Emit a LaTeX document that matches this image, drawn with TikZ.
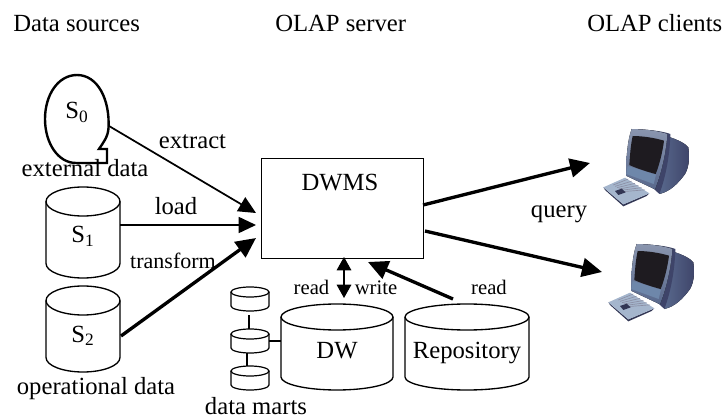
\documentclass[tikz,border=0pt]{standalone}
\usepackage{fontspec}
\setmainfont{Liberation Serif}
\usetikzlibrary{arrows.meta,calc}

\tikzset{
	txtbig/.style={inner sep=0pt,anchor=base,font=\fontsize{18.5}{20}\selectfont},
	txtsmall/.style={inner sep=0pt,anchor=base,font=\fontsize{15.5}{18}\selectfont},
	drumbox/.style={inner sep=0pt,outer sep=0pt,minimum width=#1},
	thin arrow/.style={-{Triangle[length=13pt,width=12pt]},line width=1.3pt},
	thick arrow/.style={-{Triangle[length=15pt,width=14pt]},line width=2.5pt},
}
\definecolor{pcback}{RGB}{62,68,105}
\definecolor{pcfront}{RGB}{88,104,140}
\definecolor{pcchin}{RGB}{110,135,170}
\definecolor{pcscreen}{RGB}{30,27,32}
\definecolor{pckeys}{RGB}{165,182,205}

% outline of a drum round a node: #1 node, #2 radius across, #3 depth of the lid
\newcommand{\drum}[4][1pt]{
	\draw [line width=#1] ($(#2.north)+(0,#4)$) ellipse [x radius=#3,y radius=#4];
	\draw [line width=#1] ($(#2.north west)+(0,#4)$) -- ($(#2.south west)-(0,#4)$) arc [start angle=180,end angle=0,x radius=#3,y radius=#4] -- ($(#2.north east)+(0,#4)$);
}
% one client computer, in the pixels of a crop taken 3 times larger
\newcommand{\clientpc}[1]{
	\begin{scope}[shift={#1},x=0.25pt,y=0.25pt,line join=round]
		\fill [left color=pcfront,right color=pcback] (235,80) .. controls (265,90) and (285,100) .. (295,112) .. controls (300,150) and (295,175) .. (285,192) .. controls (265,220) and (240,245) .. (208,252) -- cycle ;
		\fill [pcback] (125,57) .. controls (165,58) and (215,62) .. (241,72) .. controls (240,130) and (228,200) .. (208,252) -- (190,235) -- (120,150) -- cycle ;
		\fill [top color=pcfront!70!white,bottom color=pcfront] (125,57) .. controls (165,58) and (205,62) .. (232,72) .. controls (228,130) and (214,190) .. (195,238) -- (108,197) .. controls (108,150) and (112,90) .. (125,57) -- cycle ;
		\fill [pcchin] (113,168) -- (198,194) -- (191,222) -- (109,192) -- cycle ;
		\fill [pcscreen] (128,78) .. controls (160,78) and (195,84) .. (222,92) .. controls (218,125) and (208,165) .. (197,192) .. controls (170,185) and (140,175) .. (118,165) .. controls (120,135) and (122,105) .. (128,78) -- cycle ;
		\fill [pcback!80!black] (100,283) -- (178,250) -- (170,258) -- (100,289) -- (45,240) -- (40,232) -- cycle ;
		\fill [pckeys] (40,232) -- (105,203) -- (178,250) -- (100,283) -- cycle ;
		\foreach \k in {0,...,5}
			\draw [pcback!60,line width=0.5pt] ($(70,225)+(\k*5.5,\k*4)$) -- ($(115,207)+(\k*10,\k*6.5)$) ;
		\fill [pcback!80!black] (75,243) -- (95,236) -- (107,247) -- (85,255) -- cycle ;
	\end{scope}
}

\begin{document}
\begin{tikzpicture}[x=0.75pt,y=0.75pt,yscale=-1,xscale=1]
	\useasboundingbox (0,0) rectangle (725,417);
	% headings
	\node [txtbig,anchor=base west] (hdsources) at (13,32) {Data sources};
	\node [txtbig,anchor=base west] (hdserver) at (275,32) {OLAP server};
	\node [txtbig,anchor=base west] (hdclients) at (587,32) {OLAP clients};
	% sources
	\draw [line width=1.8pt,line join=miter] (108.5,128) .. controls (110,100) and (98,75) .. (77,75) .. controls (58,75) and (45,95) .. (45,119) .. controls (45,143) and (58,163) .. (76,163) -- (107,163) -- (107,149) -- (99,149) .. controls (103,143) and (108,137) .. (108.5,128) -- cycle ;
	\node [txtbig] (szero) at (77,119) {S\textsubscript{\fontsize{13}{13}\selectfont 0}};
	\node [txtbig] (extlbl) at (85,177) {external data};
	\node [drumbox=74*0.75pt,minimum height=91*0.75pt] (sone) at (83,232.5) {};
	\drum{sone}{37}{14.5}
	\node [txtbig] (sonelbl) at (83,243) {S\textsubscript{\fontsize{13}{13}\selectfont 1}};
	\node [drumbox=74*0.75pt,minimum height=86*0.75pt] (stwo) at (83,329) {};
	\drum{stwo}{37}{14.5}
	\node [txtbig] (stwolbl) at (83,342) {S\textsubscript{\fontsize{13}{13}\selectfont 2}};
	\node [txtbig] (oplbl) at (96,394) {operational data};
	% server
	\node [draw,line width=1.1pt,minimum width=162*0.75pt,minimum height=100*0.75pt,inner sep=0pt,anchor=north west] (dwms) at (260.5,158) {};
	\node [txtbig] (dwmslbl) at (340,191) {DWMS};
	\coordinate (inext) at (256,213);
	\coordinate (inload) at (256,225);
	\coordinate (intrans) at (256,238);
	\draw [thin arrow] (109,126) -- (inext);
	\draw [thin arrow] (sone.east |- inload) -- (inload);
	\draw [thick arrow] (121,336) -- (intrans);
	\node [txtbig] (extractlbl) at (192.5,149) {extract};
	\node [txtbig] (loadlbl) at (176,215) {load};
	\node [txtbig,font=\fontsize{16.5}{18}\selectfont] (translbl) at (173,268) {transform};
	% warehouse
	\node [drumbox=112*0.75pt,minimum height=86*0.75pt] (dw) at (337,347) {};
	\drum{dw}{56}{13}
	\node [txtbig] (dwlbl) at (337,358) {DW};
	\node [drumbox=124*0.75pt,minimum height=86*0.75pt] (repo) at (467,347) {};
	\drum{repo}{62}{13}
	\node [txtbig] (repolbl) at (467,358) {Repository};
	\node [drumbox=38*0.75pt,minimum height=24*0.75pt] (martone) at (250,299) {};
	\drum[0.9pt]{martone}{19}{5}
	\node [drumbox=38*0.75pt,minimum height=24*0.75pt] (marttwo) at (250,341) {};
	\drum[0.9pt]{marttwo}{19}{5}
	\node [drumbox=38*0.75pt,minimum height=24*0.75pt] (martthree) at (250,378) {};
	\drum[0.9pt]{martthree}{19}{5}
	\draw [line width=0.9pt,shorten <=3pt] ([xshift=-0.75pt]martone.south) -- ([xshift=-0.75pt]marttwo.north);
	\draw [line width=0.9pt] ([xshift=-2.25pt]marttwo.south) -- ([xshift=-2.25pt]martthree.north);
	\draw [line width=0.9pt] (marttwo.east) -- (marttwo.east -| dw.west);
	\node [txtbig] (martlbl) at (256,414) {data marts};
	\draw [{Triangle[length=10pt,width=11pt]}-{Triangle[length=10pt,width=11pt]},line width=0.8pt] (344,257) -- (344,298);
	\draw [thick arrow] (453,299) -- (368,262);
	\node [txtsmall] (readleft) at (311.5,294) {read};
	\node [txtsmall] (writelbl) at (376,294) {write};
	\node [txtsmall] (readright) at (489,294) {read};
	% clients
	\coordinate (pcone) at (590,163);
	\coordinate (pctwo) at (602,272);
	\draw [thick arrow] (423,205) -- (pcone);
	\draw [thick arrow] (425,231) -- (pctwo);
	\node [txtbig] (querylbl) at (559,218) {query};
	\clientpc{(590,110)}
	\clientpc{(595,225)}
\end{tikzpicture}
\end{document}
